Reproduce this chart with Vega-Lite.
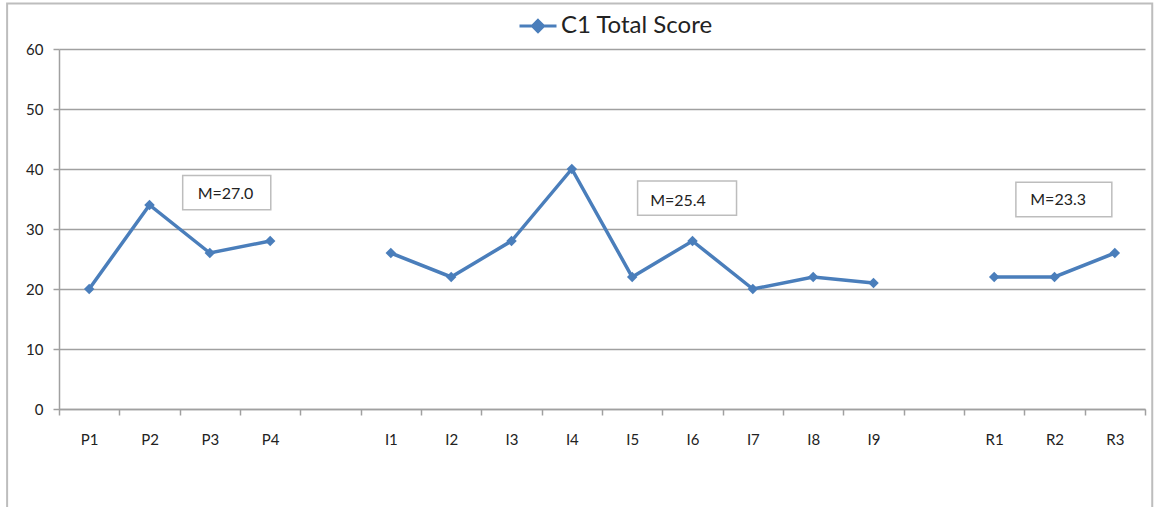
{
  "$schema": "https://vega.github.io/schema/vega-lite/v6.json",
  "width": 1086,
  "height": 360,
  "autosize": "none",
  "padding": {"left": 59, "top": 49, "right": 9, "bottom": 98},
  "background": "white",
  "config": {
    "view": {"stroke": null},
    "font": "Lato"
  },
  "resolve": {"scale": {"x": "independent"}},
  "layer": [
    {
      "data": {"values": [{}]},
      "mark": {"type": "rect", "fill": null, "stroke": "#bdbdbd", "strokeWidth": 2, "clip": false},
      "encoding": {
        "x": {"datum": -0.36, "type": "quantitative", "scale": {"domain": [0.5, 18.5]}, "axis": null},
        "x2": {"datum": 18.62},
        "y": {"datum": 67.6, "type": "quantitative"},
        "y2": {"datum": -17}
      }
    },
    {
      "data": {
        "values": [
          {"participant": "P1", "phase": "P", "score": 20},
          {"participant": "P2", "phase": "P", "score": 34},
          {"participant": "P3", "phase": "P", "score": 26},
          {"participant": "P4", "phase": "P", "score": 28},
          {"participant": "I1", "phase": "I", "score": 26},
          {"participant": "I2", "phase": "I", "score": 22},
          {"participant": "I3", "phase": "I", "score": 28},
          {"participant": "I4", "phase": "I", "score": 40},
          {"participant": "I5", "phase": "I", "score": 22},
          {"participant": "I6", "phase": "I", "score": 28},
          {"participant": "I7", "phase": "I", "score": 20},
          {"participant": "I8", "phase": "I", "score": 22},
          {"participant": "I9", "phase": "I", "score": 21},
          {"participant": "R1", "phase": "R", "score": 22},
          {"participant": "R2", "phase": "R", "score": 22},
          {"participant": "R3", "phase": "R", "score": 26}
        ]
      },
      "mark": {
        "type": "line",
        "strokeWidth": 3.5,
        "point": {"shape": "diamond", "size": 110, "filled": true, "color": "#4a7ebb", "opacity": 1}
      },
      "encoding": {
        "x": {
          "field": "participant",
          "type": "ordinal",
          "scale": {
            "domain": ["P1", "P2", "P3", "P4", " ", "I1", "I2", "I3", "I4", "I5", "I6", "I7", "I8", "I9", "  ", "R1", "R2", "R3"],
            "paddingInner": 0,
            "paddingOuter": 0
          },
          "axis": {
            "title": null,
            "labelAngle": 0,
            "tickBand": "extent",
            "domainColor": "#a0a0a0",
            "domainWidth": 1.5,
            "tickColor": "#a0a0a0",
            "tickWidth": 1.5,
            "tickSize": 6,
            "labelFontSize": 15,
            "labelColor": "#222222",
            "labelPadding": 17,
            "grid": false
          }
        },
        "y": {
          "field": "score",
          "type": "quantitative",
          "scale": {"domain": [0, 60]},
          "axis": {
            "title": null,
            "values": [0, 10, 20, 30, 40, 50, 60],
            "grid": true,
            "gridColor": "#a0a0a0",
            "gridWidth": 1.5,
            "domainColor": "#a0a0a0",
            "domainWidth": 1.5,
            "tickColor": "#a0a0a0",
            "tickWidth": 1.5,
            "tickSize": 6,
            "labelFontSize": 15,
            "labelColor": "#222222",
            "labelPadding": 10
          }
        },
        "detail": {"field": "phase"},
        "color": {
          "datum": "C1 Total Score",
          "scale": {"range": ["#4a7ebb"]},
          "legend": {
            "title": null,
            "orient": "none",
            "legendX": 459,
            "legendY": -43,
            "symbolType": "M-1,0L1,0M0,-0.3L0.3,0L0,0.3L-0.3,0Z",
            "symbolSize": 1369,
            "symbolStrokeWidth": 3,
            "symbolFillColor": "#4a7ebb",
            "symbolStrokeColor": "#4a7ebb",
            "labelFontSize": 24,
            "labelColor": "#222222",
            "labelOffset": 3,
            "padding": 0
          }
        }
      }
    },
    {
      "data": {"values": [{}]},
      "mark": {"type": "rect", "fill": "white", "stroke": "#bdbdbd", "strokeWidth": 1.5},
      "encoding": {
        "x": {"datum": 2.55, "type": "quantitative", "scale": {"domain": [0.5, 18.5]}, "axis": null},
        "x2": {"datum": 4.01},
        "y": {"datum": 38.9, "type": "quantitative"},
        "y2": {"datum": 33.2}
      }
    },
    {
      "data": {"values": [{}]},
      "mark": {"type": "text", "text": "M=27.0", "fontSize": 16, "color": "#222222", "align": "center", "baseline": "middle"},
      "encoding": {
        "x": {"datum": 3.26, "type": "quantitative", "scale": {"domain": [0.5, 18.5]}, "axis": null},
        "y": {"datum": 35.8, "type": "quantitative"}
      }
    },
    {
      "data": {"values": [{}]},
      "mark": {"type": "rect", "fill": "white", "stroke": "#bdbdbd", "strokeWidth": 1.5},
      "encoding": {
        "x": {"datum": 10.09, "type": "quantitative", "scale": {"domain": [0.5, 18.5]}, "axis": null},
        "x2": {"datum": 11.73},
        "y": {"datum": 38.0, "type": "quantitative"},
        "y2": {"datum": 32.3}
      }
    },
    {
      "data": {"values": [{}]},
      "mark": {"type": "text", "text": "M=25.4", "fontSize": 16, "color": "#222222", "align": "center", "baseline": "middle"},
      "encoding": {
        "x": {"datum": 10.76, "type": "quantitative", "scale": {"domain": [0.5, 18.5]}, "axis": null},
        "y": {"datum": 34.6, "type": "quantitative"}
      }
    },
    {
      "data": {"values": [{}]},
      "mark": {"type": "rect", "fill": "white", "stroke": "#bdbdbd", "strokeWidth": 1.5},
      "encoding": {
        "x": {"datum": 16.36, "type": "quantitative", "scale": {"domain": [0.5, 18.5]}, "axis": null},
        "x2": {"datum": 17.95},
        "y": {"datum": 37.8, "type": "quantitative"},
        "y2": {"datum": 32.05}
      }
    },
    {
      "data": {"values": [{}]},
      "mark": {"type": "text", "text": "M=23.3", "fontSize": 16, "color": "#222222", "align": "center", "baseline": "middle"},
      "encoding": {
        "x": {"datum": 17.06, "type": "quantitative", "scale": {"domain": [0.5, 18.5]}, "axis": null},
        "y": {"datum": 34.8, "type": "quantitative"}
      }
    }
  ]
}
